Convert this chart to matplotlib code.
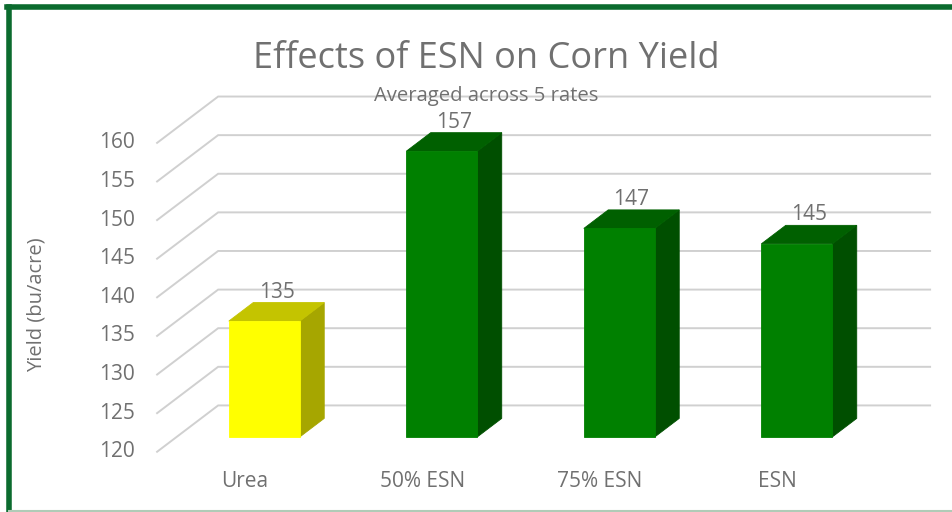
import matplotlib
matplotlib.use('Agg')
import matplotlib.pyplot as plt
from matplotlib.patches import Polygon

# data
categories = ['Urea', '50% ESN', '75% ESN', 'ESN']
yields = [135, 157, 147, 145]
bar_colors = ['yellow', 'green', 'green', 'green']
yticks = [120, 125, 130, 135, 140, 145, 150, 155, 160]

# colours for front / top / side of each bar style
faces = {
    'yellow': ('#FFFF00', '#C4C400', '#A6A600'),
    'green': ('#008000', '#006000', '#004F00'),
}

plt.rcParams['font.family'] = ['Open Sans', 'DejaVu Sans']
txt_col = '#707070'
grid_col = '#D0D0D0'

# oblique projection: depth 0 = front floor, depth 1 = back wall
DX = 0.344   # category units shifted per unit depth
DY = 6.0     # value units shifted per unit depth
d_front, d_back = 0.32, 0.72
half_w = 0.2
base = 120
x_left, x_right = -0.494, 3.517


def proj(x, v, d):
    return (x + d * DX, v + d * DY)


fig = plt.figure(figsize=(9.53, 5.12), dpi=100)
ax = fig.add_axes([0, 0, 1, 1])
ax.set_xlim(-1.379, 3.99)
ax.set_ylim(112.2, 178.5)
ax.axis('off')

# frame
fig.add_artist(plt.Line2D([7.5 / 953, 1], [1 - 6.5 / 512, 1 - 6.5 / 512], color='#0B6B2E', lw=4))
fig.add_artist(plt.Line2D([9.5 / 953, 9.5 / 953], [1 - 6.5 / 512, 2 / 512], color='#0B6B2E', lw=4))
fig.add_artist(plt.Line2D([9.5 / 953, 1], [1 / 512, 1 / 512], color='#B0CBB7', lw=1.5))

# gridlines on back wall + diagonals on side wall
for v in yticks:
    x0, y0 = proj(x_left, v, 0)
    x1, y1 = proj(x_left, v, 1)
    x2, y2 = proj(x_right, v, 1)
    ax.plot([x0, x1, x2], [y0, y1, y2], color=grid_col, lw=1.4, zorder=1,
            solid_joinstyle='miter')
    ax.text(-0.618, v, str(v), ha='right', va='center', fontsize=15, color=txt_col)

# bars
for i, (val, c) in enumerate(zip(yields, bar_colors)):
    front, top, side = faces[c]
    xa, xb = i - half_w, i + half_w
    fa = [proj(xa, base, d_front), proj(xb, base, d_front),
          proj(xb, val, d_front), proj(xa, val, d_front)]
    tp = [proj(xa, val, d_front), proj(xb, val, d_front),
          proj(xb, val, d_back), proj(xa, val, d_back)]
    sd = [proj(xb, base, d_front), proj(xb, base, d_back),
          proj(xb, val, d_back), proj(xb, val, d_front)]
    for pts, col in [(sd, side), (tp, top), (fa, front)]:
        ax.add_patch(Polygon(pts, closed=True, facecolor=col, edgecolor=col,
                             lw=0.6, zorder=3))
    # value label above the middle of the top face
    lx, _ = proj(i, val, (d_front + d_back) / 2)
    _, ly = proj(i, val, d_back)
    ax.annotate(str(val), (lx, ly), xytext=(0, 0), textcoords='offset points',
                ha='center', va='bottom', fontsize=15, color=txt_col, zorder=4)
    cx, cy = proj(i, base, 0)
    ax.annotate(categories[i], (cx, cy), xytext=(0, -21.4), textcoords='offset points',
                ha='center', va='center', fontsize=15, color=txt_col)

fig.text(486 / 953, 1 - 59 / 512, 'Effects of ESN on Corn Yield', ha='center', va='center',
         fontsize=26, color=txt_col)
fig.text(486 / 953, 1 - 96 / 512, 'Averaged across 5 rates', ha='center', va='center',
         fontsize=14.6, color=txt_col, zorder=5)
fig.text(37 / 953, 1 - 305 / 512, 'Yield (bu/acre)', ha='center', va='center', rotation=90,
         fontsize=14.5, color=txt_col)

fig.savefig('out.png', dpi=100)
